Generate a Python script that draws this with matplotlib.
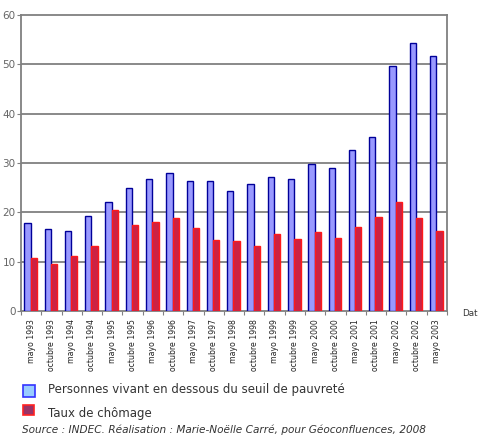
import matplotlib
matplotlib.use("Agg")
import matplotlib.pyplot as plt
import numpy as np
from matplotlib.patches import Rectangle

categories = ["mayo 1993", "octubre 1993", "mayo 1994", "octubre 1994", "mayo 1995",
              "octubre 1995", "mayo 1996", "octubre 1996", "mayo 1997", "octubre 1997",
              "mayo 1998", "octubre 1998", "mayo 1999", "octubre 1999", "mayo 2000",
              "octubre 2000", "mayo 2001", "octubre 2001", "mayo 2002", "octubre 2002",
              "mayo 2003"]
pauvrete = [17.9, 16.7, 16.2, 19.2, 22.1, 24.9, 26.7, 28.0, 26.4, 26.3, 24.4,
            25.7, 27.1, 26.7, 29.8, 28.9, 32.6, 35.3, 49.7, 54.3, 51.7]
chomage = [10.7, 9.5, 11.2, 13.1, 20.4, 17.5, 18.1, 18.8, 16.9, 14.4, 14.1,
           13.2, 15.6, 14.6, 16.0, 14.7, 17.1, 19.1, 22.0, 18.8, 16.3]
yticks = [0, 10, 20, 30, 40, 50, 60]
label_pauv = "Personnes vivant en dessous du seuil de pauvreté"
label_chom = "Taux de chômage"
source = "Source : INDEC. Réalisation : Marie-Noëlle Carré, pour Géoconfluences, 2008"

fig = plt.figure(figsize=(4.78, 4.37), dpi=100)
ax = fig.add_axes([21/478, 1 - 311/437, (447-21)/478, (311-15)/437])

x = np.arange(len(categories))
w = 0.31
ax.bar(x - w/2 - 0.03, pauvrete, width=w, color="#9999ff", edgecolor="#000099", linewidth=1.0, zorder=3)
ax.bar(x + w/2 - 0.03, chomage, width=w, color="#cc2244", edgecolor="#ff1a1a", linewidth=1.0, zorder=3)

ax.set_xlim(-0.5, len(categories) - 0.5)
ax.set_ylim(0, 60)
ax.set_yticks(yticks)
ax.set_yticklabels([str(v) for v in yticks], fontsize=7.5, color="#666666")
for v in yticks[1:-1]:
    ax.axhline(v, color="#808080", linewidth=1.3, zorder=1)

ax.set_xticks(np.arange(len(categories) + 1) - 0.5, minor=False)
ax.set_xticklabels([])
ax.tick_params(axis="x", length=3, color="#808080", direction="out")
ax.tick_params(axis="y", length=3, color="#808080", pad=1)
for i, c in enumerate(categories):
    ax.text(i, -1.6, c, rotation=90, ha="center", va="top", fontsize=5.6,
            color="#222222", transform=ax.transData, clip_on=False)

for s in ax.spines.values():
    s.set_color("#808080")
    s.set_linewidth(1.3)

fig.text(462/478, 1 - 313/437, "Dat", fontsize=6.3, color="#333333", va="center", ha="left")

# legend
fig.patches.append(Rectangle((23/478, 1 - 397/437), 12/478, 12/437, transform=fig.transFigure,
                             facecolor="#99ccff", edgecolor="#3333ff", linewidth=1.2))
fig.text(48/478, 1 - 390/437, label_pauv, fontsize=8.5, color="#333333", va="center", ha="left")
fig.patches.append(Rectangle((23/478, 1 - 415/437), 11/478, 10/437, transform=fig.transFigure,
                             facecolor="#993366", edgecolor="#ff2222", linewidth=1.2))
fig.text(48/478, 1 - 413/437, label_chom, fontsize=8.5, color="#333333", va="center", ha="left")
fig.text(22/478, 1 - 430/437, source, fontsize=7.6, style="italic", color="#333333", va="center", ha="left")

fig.savefig("out.png", dpi=100, facecolor="white")
